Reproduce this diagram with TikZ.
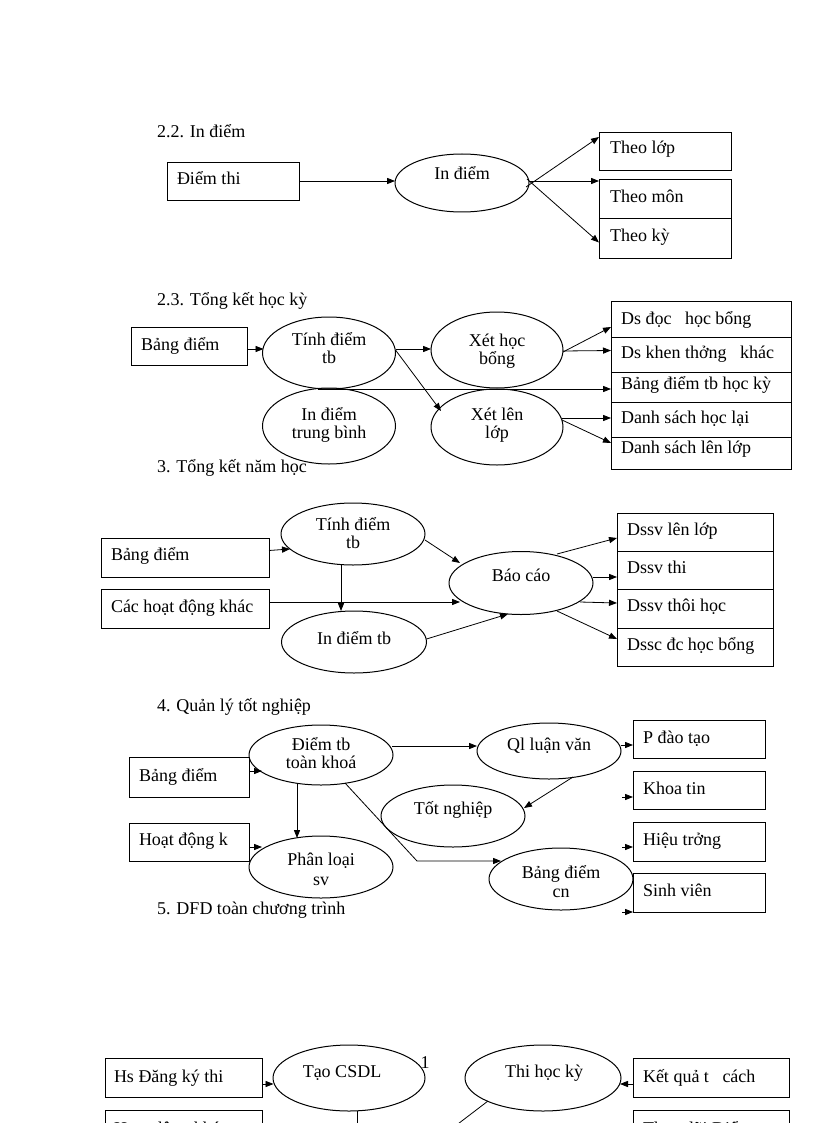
\documentclass[tikz,border=0pt]{standalone}
\usepackage{fontspec}
\setmainfont{Liberation Serif}
\usetikzlibrary{arrows.meta,shapes.geometric,calc}
\newcommand\mkbox[5]{\node[box, minimum width={(#4-#2)*0.75pt}, minimum height={(#5-#3)*0.75pt}] (#1) at ({(#2+#4)/2},{(#3+#5)/2}) {};}
\newcommand\mkell[5]{\node[proc, minimum width={#4*0.75pt}, minimum height={#5*0.75pt}] (#1) at (#2,#3) {};}
\begin{document}
\begin{tikzpicture}[x=0.75pt,y=-0.75pt,
  every node/.style={inner sep=0pt, outer sep=0pt},
  lbl/.style={font=\fontsize{13.5}{13.5}\selectfont, anchor=base west},
  ctr/.style={font=\fontsize{13.5}{13.5}\selectfont, anchor=base},
  box/.style={draw, line width=0.75pt, rectangle},
  proc/.style={draw, line width=0.75pt, ellipse},
  arr/.style={-{Triangle[length=6pt,width=4.6pt]}, line width=0.6pt},
  ln/.style={line width=0.6pt}]
\useasboundingbox (0,0) rectangle (816,1123);
\fill[white] (0,0) rectangle (816,1123);
\clip (0,0) rectangle (816,1123);

% ---------- 2.2 ----------
\node[lbl] (t22) at (157,138) {2.2. In điểm};
\mkbox{diemthi}{167}{163}{299}{201}
\node[lbl] (diemthi-t) at (177,185) {Điểm thi};
\mkell{indiem}{462}{183}{134}{58}
\node[ctr] (indiem-t) at (462,180) {In điểm};
\mkbox{theolop}{599}{133}{731}{171}
\mkbox{theomon}{599}{180}{731}{219}
\mkbox{theoky}{599}{219}{731}{258}
\node[lbl] (theolop-t) at (610,154) {Theo lớp};
\node[lbl] (theomon-t) at (610,203) {Theo môn};
\node[lbl] (theoky-t) at (610,242) {Theo kỳ};
\draw[arr] ($(diemthi.east)+(0,-1)$) -- ($(indiem.west)+(0,-2)$);
\draw[arr] ($(indiem.east)+(-3,4)$) -- ($(theolop.west)+(0,-15)$);
\draw[arr] ($(indiem.east)+(0,-2)$) -- ($(theomon.west)+(0,-18.5)$);
\draw[arr] ($(indiem.east)+(-2,-4)$) -- ($(theoky.west)+(0,4)$);

% ---------- 2.3 ----------
\node[lbl] (t23) at (157,305) {2.3. Tổng kết học kỳ};
\mkbox{bangdiem1}{131}{327}{247}{365}
\node[lbl] (bangdiem1-t) at (141,350) {Bảng điểm};
\mkell{tinhtb1}{329}{353}{133}{72}
\node[ctr] (tinhtb1-a) at (329,345) {Tính điểm};
\node[ctr] (tinhtb1-b) at (329,363) {tb};
\mkell{indiemtb1}{329}{426}{133}{76}
\node[ctr] (indiemtb1-a) at (329,420) {In điểm};
\node[ctr] (indiemtb1-b) at (329,438) {trung bình};
\mkell{xethb}{497}{350}{132}{76}
\node[ctr] (xethb-a) at (497,346) {Xét học};
\node[ctr] (xethb-b) at (497,364) {bổng};
\mkell{xetll}{497}{427}{132}{76}
\node[ctr] (xetll-a) at (497,420) {Xét lên};
\node[ctr] (xetll-b) at (497,438) {lớp};
\mkbox{dsdhb}{611}{301}{791}{337}
\mkbox{dskt}{611}{337}{791}{372}
\mkbox{bdtbhk}{611}{372}{791}{402}
\mkbox{dshl}{611}{402}{791}{437}
\mkbox{dsll}{611}{437}{791}{469}
\node[lbl] (dsdhb-t) at (621,324) {Ds đọc~~~học bổng};
\node[lbl] (dskt-t) at (621,358) {Ds khen thởng~~~khác};
\node[lbl] (bdtbhk-t) at (621,389) {Bảng điểm tb học kỳ};
\node[lbl] (dshl-t) at (621,423) {Danh sách học lại};
\node[lbl] (dsll-t) at (621,453) {Danh sách lên lớp};
\draw[arr] ($(bangdiem1.east)+(0,3)$) -- ($(tinhtb1.west)+(1,-4)$);
\draw[arr] ($(tinhtb1.east)+(0,-4)$) -- ($(xethb.west)+(0,-1)$);
\draw[arr] ($(tinhtb1.east)+(0,-3)$) -- ($(xetll)+(-56,-16)$);
\coordinate (lstart) at ($(tinhtb1.south)+(-11,0)$);
\draw[arr] (lstart) -- (lstart -| bdtbhk.west);
\draw[arr] ($(xethb.east)+(0,2)$) -- ($(dsdhb.west)+(0,8)$);
\draw[arr] ($(xethb.east)+(0,1)$) -- ($(dskt.west)+(0,-4)$);
\draw[arr] ($(xetll.east)+(-1,-9)$) -- ($(dshl.west)+(0,-1.5)$);
\draw[arr] ($(xetll.east)+(-1,-7)$) -- ($(dsll.west)+(0,-10)$);

% ---------- 3 ----------
\node[lbl] (t3) at (157,472) {3. Tổng kết năm học};
\mkbox{bangdiem2}{101}{538}{269}{577}
\node[lbl] (bangdiem2-t) at (111,560) {Bảng điểm};
\mkbox{cachd}{101}{589}{269}{628}
\node[lbl] (cachd-t) at (111,612) {Các hoạt động khác};
\mkell{tinhtb2}{353}{534}{144}{62}
\node[ctr] (tinhtb2-a) at (353,530) {Tính điểm};
\node[ctr] (tinhtb2-b) at (353,548) {tb};
\mkell{indiemtb2}{354}{642}{145}{62}
\node[ctr] (indiemtb2-t) at (354,644) {In điểm tb};
\mkell{baocao}{521}{583}{144}{63}
\node[ctr] (baocao-t) at (521,581) {Báo cáo};
\mkbox{dssvll}{617}{513}{773}{551}
\mkbox{dssvthi}{617}{551}{773}{589}
\mkbox{dssvth}{617}{589}{773}{628}
\mkbox{dsschb}{617}{628}{773}{666}
\node[lbl] (dssvll-t) at (627,535) {Dssv lên lớp};
\node[lbl] (dssvthi-t) at (627,573) {Dssv thi};
\node[lbl] (dssvth-t) at (627,611) {Dssv thôi học};
\node[lbl] (dsschb-t) at (627,650) {Dssc đc học bổng};
\draw[arr] ($(bangdiem2.east)+(0,-7)$) -- ($(tinhtb2)+(-63,15)$);
\coordinate (vstart) at ($(tinhtb2.south)+(-12,0)$);
\draw[arr] (vstart) -- (vstart |- indiemtb2.north);
\draw[arr] ($(cachd.east)+(0,-6.5)$) -- ($(baocao)+(-61,19)$);
\draw[arr] ($(tinhtb2.east)+(0,6)$) -- ($(baocao)+(-61,-20)$);
\draw[arr] ($(indiemtb2.east)+(0,-3)$) -- ($(baocao)+(-13,31)$);
\draw[arr] ($(baocao)+(36,-29)$) -- ($(dssvll.west)+(0,6)$);
\draw[arr] ($(baocao.east)+(0,-6)$) -- ($(dssvthi.west)+(0,7)$);
\draw[arr] ($(baocao)+(59,19)$) -- ($(dssvth.west)+(0,-5.5)$);
\draw[arr] ($(baocao)+(36,28)$) -- ($(dsschb.west)+(0,-8)$);

% ---------- 4 ----------
\node[lbl] (t4) at (157,711) {4. Quản lý tốt nghiệp};
\mkbox{bangdiem3}{129}{757}{249}{797}
\node[lbl] (bangdiem3-t) at (139,781) {Bảng điểm};
\mkbox{hoatdongk}{129}{823}{249}{861}
\node[lbl] (hoatdongk-t) at (139,845) {Hoạt động k};
\mkell{diemtbtk}{321}{755}{144}{60}
\node[ctr] (diemtbtk-a) at (321,750) {Điểm tb};
\node[ctr] (diemtbtk-b) at (321,768) {toàn khoá};
\mkell{phanloai}{321}{867}{144}{62}
\node[ctr] (phanloai-a) at (321,865) {Phân loại};
\node[ctr] (phanloai-b) at (321,885) {sv};
\mkell{qlvan}{549}{751}{144}{56}
\node[ctr] (qlvan-t) at (549,750) {Ql luận văn};
\mkell{totnghiep}{453}{816}{144}{62}
\node[ctr] (totnghiep-t) at (453,814) {Tốt nghiệp};
\mkell{bangdiemcn}{561}{879}{144}{62}
\node[ctr] (bangdiemcn-a) at (561,878) {Bảng điểm};
\node[ctr] (bangdiemcn-b) at (561,897) {cn};
\mkbox{pdaotao}{633}{720}{765}{758}
\mkbox{khoatin}{633}{771}{765}{809}
\mkbox{hieutrong}{633}{822}{765}{861}
\mkbox{sinhvien}{633}{873}{765}{912}
\node[lbl] (pdaotao-t) at (643,743) {P đào tạo};
\node[lbl] (khoatin-t) at (643,794) {Khoa tin};
\node[lbl] (hieutrong-t) at (643,845) {Hiệu trởng};
\node[lbl] (sinhvien-t) at (643,896) {Sinh viên};
\draw[arr] ($(bangdiem3.east)+(0,-6)$) -- ($(diemtbtk)+(-59,16)$);
\draw[arr] ($(hoatdongk.east)+(0,5)$) -- ($(phanloai)+(-59,-20)$);
\draw[arr] ($(diemtbtk)+(-24,28)$) -- ($(phanloai)+(-24,-29)$);
\coordinate (bend) at ($(bangdiemcn)+(-144,-18)$);
\draw[arr] ($(diemtbtk)+(24,28)$) -- (bend) -- ($(bangdiemcn)+(-60,-18)$);
\draw[arr] ($(diemtbtk.east)+(-1,-9)$) -- ($(qlvan.west)+(0,-5)$);
\draw[arr] ($(qlvan)+(24,26)$) -- ($(totnghiep)+(71,-8)$);
\draw[arr] ($(qlvan.east)+(0,-6)$) -- ($(pdaotao.west)+(0,6)$);
\coordinate (fk) at ($(khoatin.west)+(-11,7)$);
\draw[arr] (fk) -- (fk -| khoatin.west);
\coordinate (fh) at ($(hieutrong.west)+(-11,5.5)$);
\draw[arr] (fh) -- (fh -| hieutrong.west);
\coordinate (fs) at ($(sinhvien.west)+(-11,19.5)$);
\draw[arr] (fs) -- (fs -| sinhvien.west);
\node[lbl] (t5) at (157,914) {5. DFD toàn chương trình};

% ---------- 5 (bottom, cut off) ----------
\mkbox{hsdk}{105}{1058}{262}{1097}
\node[lbl] (hsdk-t) at (114,1082) {Hs Đăng ký thi};
\mkell{taocsdl}{349}{1078}{152}{66}
\node[ctr] (taocsdl-t) at (342,1077) {Tạo CSDL};
\mkell{thihk}{543}{1078}{156}{66}
\node[ctr] (thihk-t) at (544,1077) {Thi học kỳ};
\mkbox{kqtc}{633}{1058}{789}{1097}
\node[lbl] (kqtc-t) at (643,1082) {Kết quả t~~~cách};
\node[ctr] (pageno) at (425,1068) {1};
\draw[arr] ($(hsdk.east)+(0,6.5)$) -- ($(taocsdl)+(-75.5,6)$);
\draw[arr] ($(kqtc.west)+(0,6.5)$) -- ($(thihk)+(77,6)$);
\mkbox{hdk2}{105}{1110}{262}{1150}
\mkbox{tdd}{633}{1110}{789}{1150}
\node[lbl] (hdk2-t) at (114,1134) {Hoạt động khác};
\node[lbl] (tdd-t) at (643,1134) {Theo dõi Điểm};
\coordinate (vend) at (357,1135);
\draw[ln] ($(taocsdl)+(8,33)$) -- (vend);
\coordinate (dend) at (450,1130);
\draw[ln] ($(thihk)+(-55,23)$) -- (dend);
\end{tikzpicture}
\end{document}
